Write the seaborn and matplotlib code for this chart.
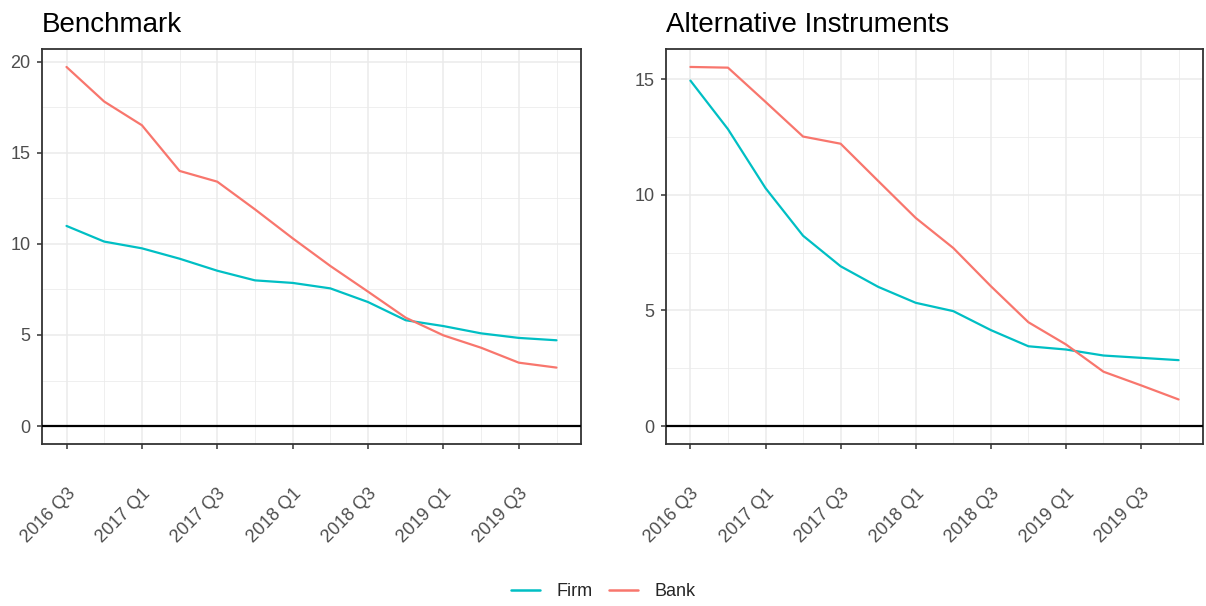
import pandas as pd
import numpy as np
import matplotlib
matplotlib.use("Agg")
import matplotlib.pyplot as plt
import seaborn as sns
from matplotlib.ticker import MultipleLocator

# ===============================
# Data
# ===============================
quarters = ["2016 Q3", "2016 Q4", "2017 Q1", "2017 Q2", "2017 Q3", "2017 Q4", "2018 Q1",
            "2018 Q2", "2018 Q3", "2018 Q4", "2019 Q1", "2019 Q2", "2019 Q3", "2019 Q4"]

bench_firm = [10.99, 10.13, 9.76, 9.19, 8.53, 8.00, 7.86, 7.56, 6.81, 5.81, 5.49, 5.09, 4.84, 4.71]
bench_bank = [19.72, 17.82, 16.52, 14.01, 13.42, 11.90, 10.31, 8.79, 7.38, 5.95, 4.98, 4.30, 3.48, 3.21]

alt_firm = [14.94, 12.84, 10.29, 8.23, 6.91, 6.02, 5.33, 4.97, 4.15, 3.45, 3.31, 3.05, 2.95, 2.85]
alt_bank = [15.53, 15.50, 14.02, 12.52, 12.21, 10.60, 9.00, 7.70, 6.05, 4.49, 3.53, 2.35, 1.76, 1.15]

panel_titles = ["Benchmark", "Alternative Instruments"]
series_names = ["Firm", "Bank"]
palette = {"Firm": "#00BFC4", "Bank": "#F8766D"}


def make_long(firm, bank):
    df = pd.DataFrame({"idx": np.arange(len(quarters)), "Firm": firm, "Bank": bank})
    return df.melt(id_vars="idx", var_name="series", value_name="value")


panels = [make_long(bench_firm, bench_bank), make_long(alt_firm, alt_bank)]

# ===============================
# Style
# ===============================
sns.set_theme(style="white")
plt.rcParams["font.family"] = ["Liberation Sans", "DejaVu Sans"]

fig = plt.figure(figsize=(12.06, 6.06), dpi=100)
W, H = 1206, 606
boxes = [(42, 49, 581, 444), (666, 49, 1203, 444)]

for (x0, y0, x1, y1), df, title in zip(boxes, panels, panel_titles):
    ax = fig.add_axes([x0 / W, 1 - y1 / H, (x1 - x0) / W, (y1 - y0) / H])
    sns.lineplot(data=df, x="idx", y="value", hue="series", hue_order=series_names,
                 palette=palette, linewidth=1.6, ax=ax, legend=True, zorder=3)
    ax.axhline(0, color="black", lw=1.6, zorder=4)

    ymax = df["value"].max()
    ax.set_ylim(-0.05 * ymax, ymax * 1.05)
    ax.set_xlim(-0.65, 13.65)

    ax.xaxis.set_major_locator(MultipleLocator(2))
    ax.xaxis.set_minor_locator(MultipleLocator(1))
    ax.yaxis.set_major_locator(MultipleLocator(5))
    ax.yaxis.set_minor_locator(MultipleLocator(2.5))
    ax.set_xticks(range(0, len(quarters), 2))
    ax.set_xticklabels(quarters[::2])

    ax.grid(which="major", color="#EBEBEB", lw=1.1, zorder=0)
    ax.grid(which="minor", color="#EBEBEB", lw=0.55, zorder=0)
    ax.set_axisbelow(True)

    for s in ax.spines.values():
        s.set_color("#333333")
        s.set_linewidth(1.3)

    ax.tick_params(axis="both", which="major", length=3.8, width=1.1, color="#333333",
                   labelcolor="#4D4D4D", labelsize=13, left=True, bottom=True)
    ax.tick_params(axis="y", pad=4.5)
    ax.tick_params(axis="x", pad=26)
    ax.tick_params(which="minor", length=0)
    for lab in ax.get_xticklabels():
        lab.set_rotation(45)
        lab.set_rotation_mode("anchor")
        lab.set_ha("right")
        lab.set_va("top")

    ax.set_xlabel("")
    ax.set_ylabel("")
    ax.set_title(title, loc="left", fontsize=20, color="black", pad=12.6)

    handles, labels = ax.get_legend_handles_labels()
    ax.get_legend().remove()

leg = fig.legend(handles, labels, loc="center", bbox_to_anchor=(0.5, 1 - 592 / H), ncol=2,
                 frameon=False, fontsize=13, handlelength=1.62, handletextpad=0.9,
                 columnspacing=0.92)
for line in leg.get_lines():
    line.set_linewidth(1.8)

fig.savefig("out.png", dpi=100)
